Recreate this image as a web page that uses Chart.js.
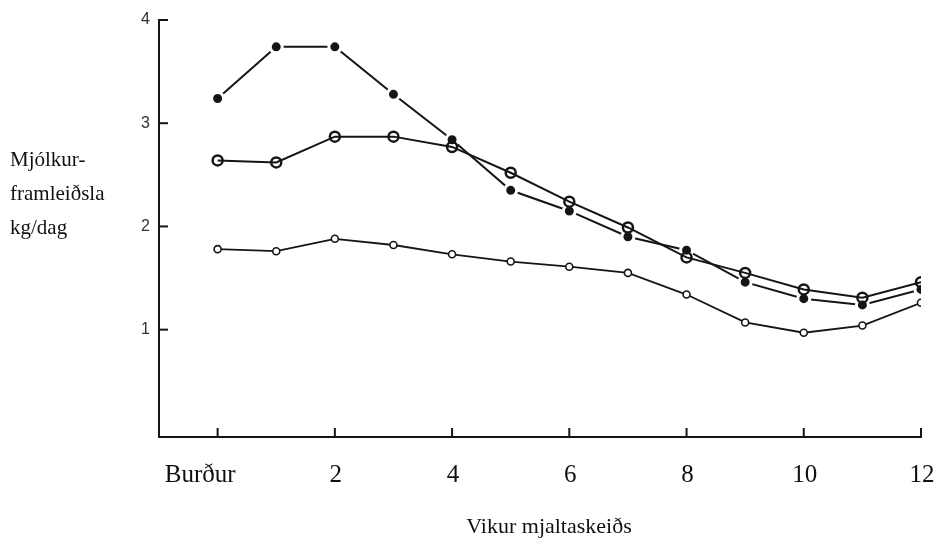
<!DOCTYPE html>
<html lang="is">
<head>
  <meta charset="UTF-8">
  <title>Mjólkurframleiðsla</title>
  <script src="https://cdn.jsdelivr.net/npm/chart.js"></script>
  <style>
    body { margin: 0; background: #fff; }
    .chart-container { position: relative; width: 936px; height: 547px; }
  </style>
</head>
<body>
  <div class="chart-container">
    <canvas id="milkChart"></canvas>
  </div>

  <script>
    // vikur frá burði
    const weeks = [0, 1, 2, 3, 4, 5, 6, 7, 8, 9, 10, 11, 12];
    // efsti ferill (litlir svartir punktar)
    const seriesA = [3.24, 3.74, 3.74, 3.28, 2.84, 2.35, 2.15, 1.90, 1.77, 1.46, 1.30, 1.24, 1.39];
    // miðferill (stærri hringir)
    const seriesB = [2.64, 2.62, 2.87, 2.87, 2.77, 2.52, 2.24, 1.99, 1.70, 1.55, 1.39, 1.31, 1.46];
    // neðsti ferill (litlir opnir hringir)
    const seriesC = [1.78, 1.76, 1.88, 1.82, 1.73, 1.66, 1.61, 1.55, 1.34, 1.07, 0.97, 1.04, 1.26];

    const xTicks = [0, 2, 4, 6, 8, 10, 12];
    const xTickLabels = ['Burður', '2', '4', '6', '8', '10', '12'];
    const yTicks = [1, 2, 3, 4];
    const yTitle = ['Mjólkur-', 'framleiðsla', 'kg/dag'];
    const xTitle = 'Vikur mjaltaskeiðs';

    const toPoints = vals => weeks.map((w, i) => ({ x: w, y: vals[i] }));
    const ink = '#151515';
    const serif = '"Liberation Serif", "Times New Roman", serif';

    // ticks pointing inward, x labels and axis titles
    const extras = {
      id: 'extras',
      afterDraw(chart) {
        const ctx = chart.ctx;
        const xs = chart.scales.x, ys = chart.scales.y;
        const area = chart.chartArea;
        ctx.save();
        ctx.strokeStyle = ink;
        ctx.lineWidth = 2;
        yTicks.forEach(v => {
          const py = ys.getPixelForValue(v);
          ctx.beginPath();
          ctx.moveTo(area.left, py);
          ctx.lineTo(area.left + 9, py);
          ctx.stroke();
        });
        xTicks.forEach(v => {
          const px = xs.getPixelForValue(v);
          ctx.beginPath();
          ctx.moveTo(px, area.bottom);
          ctx.lineTo(px, area.bottom - 9);
          ctx.stroke();
        });

        ctx.fillStyle = '#111';
        ctx.textBaseline = 'middle';
        ctx.font = '25px ' + serif;
        xTicks.forEach((v, i) => {
          const px = xs.getPixelForValue(v);
          if (i === 0) {
            ctx.textAlign = 'right';
            ctx.fillText(xTickLabels[i], px + 18, area.bottom + 38);
          } else {
            ctx.textAlign = 'center';
            ctx.fillText(xTickLabels[i], px + 1, area.bottom + 38);
          }
        });

        ctx.font = '21px ' + serif;
        ctx.textAlign = 'left';
        yTitle.forEach((t, i) => ctx.fillText(t, 10, 160 + i * 34));
        ctx.textAlign = 'center';
        ctx.font = '22px ' + serif;
        ctx.fillText(xTitle, 549, 527);
        ctx.restore();
      }
    };

    new Chart(document.getElementById('milkChart').getContext('2d'), {
      type: 'line',
      data: {
        datasets: [
          {
            data: toPoints(seriesA),
            order: 3,
            borderColor: ink,
            borderWidth: 2,
            pointRadius: 6,
            pointBackgroundColor: ink,
            pointBorderColor: '#fff',
            pointBorderWidth: 3,
            tension: 0
          },
          {
            data: toPoints(seriesB),
            order: 2,
            borderColor: ink,
            borderWidth: 2,
            pointRadius: 5,
            pointBackgroundColor: 'rgba(255,255,255,0)',
            pointBorderColor: ink,
            pointBorderWidth: 2.5,
            tension: 0
          },
          {
            data: toPoints(seriesC),
            order: 1,
            borderColor: ink,
            borderWidth: 1.8,
            pointRadius: 3.5,
            pointBackgroundColor: '#fff',
            pointBorderColor: ink,
            pointBorderWidth: 1.6,
            tension: 0
          }
        ]
      },
      options: {
        responsive: true,
        maintainAspectRatio: false,
        animation: false,
        layout: { padding: { top: 20, right: 15, left: 0, bottom: 0 } },
        plugins: { legend: { display: false }, tooltip: { enabled: false } },
        scales: {
          x: {
            type: 'linear',
            min: -1,
            max: 12,
            afterBuildTicks: axis => { axis.ticks = xTicks.map(v => ({ value: v })); },
            afterFit: axis => { axis.height = 110; },
            grid: { display: false, drawTicks: false },
            border: { display: true, color: ink, width: 2 },
            ticks: { display: false }
          },
          y: {
            min: -0.04,
            max: 4,
            afterBuildTicks: axis => { axis.ticks = yTicks.map(v => ({ value: v })); },
            afterFit: axis => { axis.width = 159; },
            grid: { display: false, drawTicks: false },
            border: { display: true, color: ink, width: 2 },
            ticks: {
              padding: 9,
              color: '#333',
              font: { family: '"Liberation Sans", Arial, sans-serif', size: 16 }
            }
          }
        }
      },
      plugins: [extras]
    });
  </script>
</body>
</html>
